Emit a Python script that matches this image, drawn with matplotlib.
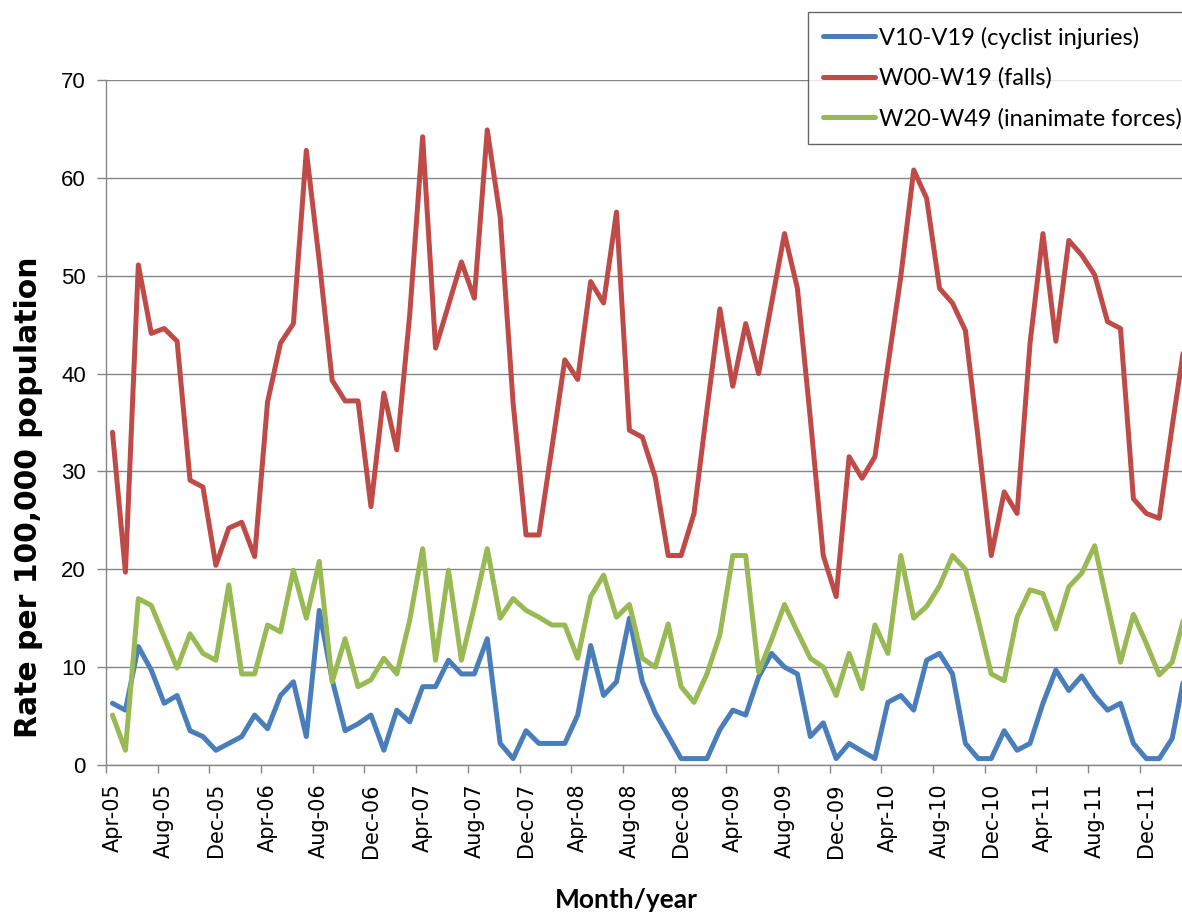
import matplotlib.pyplot as plt
from matplotlib.ticker import MultipleLocator, FixedLocator

# Monthly rates, Apr-05 onwards
cyclist = [6.3, 5.6, 12.1, 9.7, 6.3, 7.1, 3.5, 2.9, 1.5, 2.2, 2.9, 5.1,
           3.7, 7.1, 8.5, 2.9, 15.8, 8.7, 3.5, 4.2, 5.1, 1.5, 5.6, 4.4,
           8.0, 8.0, 10.7, 9.3, 9.3, 12.9, 2.2, 0.65, 3.5, 2.2, 2.2, 2.2,
           5.1, 12.2, 7.1, 8.5, 15.0, 8.5, 5.3, 3.0, 0.65, 0.65, 0.65, 3.6,
           5.6, 5.1, 9.0, 11.4, 10.0, 9.3, 2.9, 4.3, 0.65, 2.2, 1.4, 0.65,
           6.4, 7.1, 5.6, 10.7, 11.4, 9.3, 2.2, 0.65, 0.65, 3.5, 1.5, 2.2,
           6.3, 9.7, 7.6, 9.1, 7.1, 5.6, 6.3, 2.2, 0.65, 0.65, 2.7, 9.5]
falls = [34.0, 19.7, 51.1, 44.1, 44.6, 43.3, 29.1, 28.4, 20.4, 24.2, 24.8, 21.3,
         37.1, 43.1, 45.1, 62.8, 51.5, 39.3, 37.2, 37.2, 26.4, 38.0, 32.2, 46.0,
         64.2, 42.6, 47.0, 51.4, 47.7, 64.9, 56.0, 37.0, 23.5, 23.5, 32.4, 41.4,
         39.4, 49.4, 47.2, 56.5, 34.2, 33.5, 29.4, 21.4, 21.4, 25.7, 36.3, 46.6,
         38.7, 45.1, 40.0, 47.2, 54.3, 48.7, 35.4, 21.4, 17.2, 31.5, 29.3, 31.5,
         40.8, 49.9, 60.8, 57.9, 48.7, 47.2, 44.4, 33.2, 21.4, 27.9, 25.7, 43.1,
         54.3, 43.3, 53.6, 52.1, 50.1, 45.3, 44.6, 27.2, 25.7, 25.2, 34.6, 43.5]
inanimate = [5.1, 1.5, 17.0, 16.3, 13.1, 9.9, 13.4, 11.4, 10.7, 18.4, 9.3, 9.3,
             14.3, 13.6, 19.9, 15.0, 20.8, 8.5, 12.9, 8.0, 8.7, 10.9, 9.3, 14.8,
             22.1, 10.7, 19.9, 10.7, 16.2, 22.1, 15.0, 17.0, 15.8, 15.1, 14.3, 14.3,
             10.9, 17.2, 19.4, 15.1, 16.4, 10.9, 10.0, 14.4, 8.0, 6.4, 9.3, 13.3,
             21.4, 21.4, 9.5, 12.8, 16.4, 13.6, 10.9, 10.0, 7.1, 11.4, 7.8, 14.3,
             11.4, 21.4, 15.0, 16.2, 18.3, 21.4, 20.0, 14.8, 9.3, 8.6, 15.1, 17.9,
             17.5, 13.9, 18.2, 19.6, 22.4, 16.4, 10.5, 15.4, 12.4, 9.2, 10.5, 15.5]

tick_labels = ["Apr-05", "Aug-05", "Dec-05", "Apr-06", "Aug-06", "Dec-06",
               "Apr-07", "Aug-07", "Dec-07", "Apr-08", "Aug-08", "Dec-08",
               "Apr-09", "Aug-09", "Dec-09", "Apr-10", "Aug-10", "Dec-10",
               "Apr-11", "Aug-11", "Dec-11"]

series = [
    ("V10-V19 (cyclist injuries)", cyclist, "#4A7EBB"),
    ("W00-W19 (falls)", falls, "#BE4B48"),
    ("W20-W49 (inanimate forces)", inanimate, "#98B954"),
]

fig = plt.figure(figsize=(11.82, 9.16), dpi=100)
ax = fig.add_axes([0.0897, 0.1649, 0.9103, 0.7478])

x = list(range(len(falls)))
for name, vals, color in series:
    ax.plot(x, vals, color=color, lw=3.6, label=name,
            solid_joinstyle="round", solid_capstyle="round")

ax.set_xlim(-0.5, 82.76)
ax.set_ylim(0, 70)
ax.yaxis.set_major_locator(MultipleLocator(10))
ax.grid(axis="y", color="#868686", lw=1.0)
ax.set_axisbelow(True)

grey = "#868686"
for side in ["top", "right"]:
    ax.spines[side].set_visible(False)
for side in ["left", "bottom"]:
    ax.spines[side].set_color(grey)
    ax.spines[side].set_linewidth(1.0)

# labels sit on the category centre, tick marks on the boundaries
ax.xaxis.set_major_locator(FixedLocator(range(0, 4 * len(tick_labels), 4)))
ax.set_xticklabels(tick_labels, rotation=90, fontsize=15,
                   family="DejaVu Sans")
ax.xaxis.set_minor_locator(FixedLocator([k - 0.5 for k in range(0, 84, 4)]))
ax.tick_params(axis="x", which="major", length=0, pad=13)
ax.tick_params(axis="x", which="minor", length=6, width=1, color=grey,
               direction="out")
ax.tick_params(axis="y", length=6.5, width=1, color=grey, pad=8,
               labelsize=16)
for t in ax.get_yticklabels():
    t.set_family("Liberation Sans")

fig.text(0.024, 0.457, "Rate per 100,000 population", rotation=90,
         ha="center", va="center", fontsize=21.5, fontweight="bold",
         family="DejaVu Sans")
fig.text(0.53, 0.018, "Month/year", ha="center", va="center",
         fontsize=19, fontweight="bold", family="Lato")

leg = fig.legend(loc="upper left", bbox_to_anchor=(0.6836, 0.987),
                 frameon=True, fancybox=False,
                 prop={"family": "Lato", "size": 17},
                 handlelength=2.2, handletextpad=0.2, labelspacing=0.8,
                 borderpad=0.62, borderaxespad=0)
leg.get_frame().set_edgecolor("#404040")
leg.get_frame().set_linewidth(1.0)

fig.savefig("out.png", dpi=100)
